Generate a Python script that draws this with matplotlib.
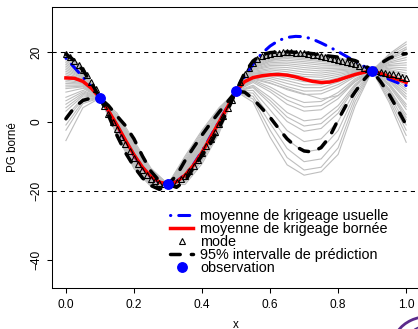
import numpy as np
import matplotlib
matplotlib.use("Agg")
import matplotlib.pyplot as plt
from matplotlib.lines import Line2D
from matplotlib.patches import Ellipse
from matplotlib.transforms import IdentityTransform

plt.rcParams["font.family"] = ["Liberation Sans", "DejaVu Sans"]

# observations
obsX = [0.1, 0.3, 0.5, 0.9]
obsY = [6.8, -18.1, 8.7, 14.7]

# grid for the main curves (step 0.025)
xMain = np.linspace(0.0, 1.0, 41)

meanUsual = [18.3, 15.6, 12.8, 10.0, 6.8, 3.0, -1.2, -5.6, -9.8, -13.4, -16.0,
             -17.6, -18.1, -17.3, -15.4, -12.4, -8.6, -4.3, 0.0, 4.3, 8.7,
             12.9, 16.6, 19.6, 21.8, 23.4, 24.3, 24.6, 24.5, 23.8, 22.7,
             21.5, 20.2, 18.8, 17.4, 16.0, 14.7, 13.4, 12.2, 11.2, 10.4]

meanBounded = [12.6, 12.5, 11.6, 9.6, 6.8, 3.1, -1.0, -5.4, -9.6, -13.2, -15.9,
               -17.5, -18.1, -17.4, -15.5, -12.6, -8.9, -4.6, -0.2, 4.2, 8.7,
               11.5, 12.7, 13.2, 13.5, 13.6, 13.4, 12.9, 12.2, 11.6, 11.3,
               11.4, 12.0, 12.8, 13.6, 14.2, 14.7, 13.9, 13.0, 12.2, 11.3]

upper95 = [19.5, 17.6, 14.8, 11.2, 6.8, 4.6, 1.6, -1.2, -5.0, -10.0, -14.4,
           -17.2, -18.1, -15.6, -11.3, -7.5, -3.9, -0.5, 2.7, 5.7, 8.7,
           14.0, 17.5, 19.3, 19.9, 20.1, 20.1, 20.0, 19.9, 19.6, 19.2,
           18.9, 18.6, 18.2, 17.6, 16.5, 14.7, 16.8, 18.3, 19.2, 19.6]

lower95 = [0.8, 4.1, 6.1, 6.8, 6.8, 1.8, -4.0, -9.0, -13.0, -16.3, -18.5,
           -19.6, -18.1, -19.0, -17.2, -13.3, -9.8, -6.4, -1.8, 3.2, 8.7,
           8.5, 6.6, 3.9, 1.2, -2.0, -5.0, -7.2, -8.5, -8.8, -7.5,
           -4.4, 0.5, 5.0, 8.6, 12.0, 14.7, 11.5, 7.8, 3.5, -1.0]

# mode, finer grid (step 0.0125)
xMode = np.linspace(0.0, 1.0, 81)
modeY = [19.5, 18.7, 17.6, 16.4, 15.0, 13.4, 11.5, 9.3, 6.8,
         4.6, 2.3, 0.0, -2.2, -4.4, -6.5, -8.6, -10.6, -12.4, -14.0, -15.4,
         -16.5, -17.3, -17.8, -18.1, -18.1,
         -17.9, -17.4, -16.6, -15.6, -14.3, -12.8, -11.1, -9.2, -7.2, -5.1,
         -2.9, -0.7, 1.5, 3.8, 6.2, 8.7,
         11.3, 13.6, 15.5, 17.0, 18.0, 18.8, 19.3, 19.6, 19.8, 19.9, 20.0,
         20.0, 20.0, 19.9, 19.8, 19.7, 19.5, 19.3, 19.1, 18.9, 18.6, 18.3,
         18.0, 17.8, 17.5, 17.2, 16.9, 16.5, 16.1, 15.6, 15.2, 14.7,
         14.5, 14.3, 14.1, 13.8, 13.6, 13.3, 13.0, 12.7]

# simulated paths (step 0.05)
xPaths = np.linspace(0.0, 1.0, 21)
grayPaths = [
    [20.0, 15.5, 6.8, 2.5, -5.5, -13.5, -18.1, -10.0, -2.5, 4.0, 8.7, 17.5, 19.8, 20.0, 19.8, 19.3, 18.5, 17.2, 14.7, 13.0, 9.5],
    [19.0, 15.0, 6.8, 1.8, -6.5, -14.2, -18.1, -11.0, -3.5, 3.3, 8.7, 17.0, 19.2, 19.6, 19.4, 18.8, 18.0, 16.8, 14.7, 16.5, 17.0],
    [18.5, 14.8, 6.8, 1.2, -7.3, -14.8, -18.1, -12.0, -4.6, 2.6, 8.7, 16.5, 18.5, 19.0, 18.6, 18.0, 17.4, 16.5, 14.7, 19.5, 23.0],
    [18.0, 14.3, 6.8, 0.7, -8.0, -15.2, -18.1, -12.8, -5.5, 2.0, 8.7, 16.0, 17.8, 18.2, 17.8, 17.3, 16.9, 16.2, 14.7, 11.0, 5.0],
    [17.0, 13.8, 6.8, 0.2, -8.6, -15.6, -18.1, -13.5, -6.3, 1.4, 8.7, 15.5, 17.0, 17.2, 16.8, 16.3, 16.2, 15.8, 14.7, 18.0, 20.0],
    [16.0, 13.2, 6.8, -0.3, -9.2, -16.0, -18.1, -14.2, -7.1, 0.9, 8.7, 15.0, 16.2, 16.2, 15.6, 15.2, 15.4, 15.5, 14.7, 8.7, 0.5],
    [15.0, 12.8, 6.8, -0.7, -9.7, -16.3, -18.1, -14.8, -7.8, 0.4, 8.7, 14.5, 15.3, 15.0, 14.3, 14.0, 14.6, 15.0, 14.7, 15.0, 14.0],
    [14.0, 12.3, 6.8, -1.1, -10.2, -16.6, -18.1, -15.3, -8.5, 0.0, 8.7, 14.0, 14.4, 13.8, 13.0, 12.8, 13.6, 14.6, 14.7, 12.3, 8.0],
    [13.0, 11.8, 6.8, -1.5, -10.7, -16.9, -18.1, -15.8, -9.1, -0.5, 8.7, 13.5, 13.5, 12.5, 11.5, 11.4, 12.6, 14.2, 14.7, 17.2, 18.5],
    [12.5, 11.5, 6.8, -2.0, -11.3, -17.3, -18.1, -16.4, -9.8, -1.1, 8.7, 13.0, 12.4, 11.0, 9.8, 9.8, 11.4, 13.6, 14.7, 6.3, -4.0],
    [11.5, 11.0, 6.8, -2.6, -12.0, -17.7, -18.1, -17.0, -10.6, -1.8, 8.7, 12.5, 11.2, 9.2, 7.8, 8.0, 10.0, 13.0, 14.7, 14.3, 12.5],
    [10.5, 10.5, 6.8, -3.3, -12.8, -18.2, -18.1, -17.6, -11.4, -2.6, 8.7, 12.0, 10.0, 7.3, 5.5, 5.8, 8.4, 12.4, 14.7, 18.8, 21.5],
    [9.5, 10.0, 6.8, -4.0, -13.6, -18.8, -18.1, -18.2, -12.2, -3.4, 8.7, 11.3, 8.6, 5.0, 3.0, 3.4, 6.6, 11.6, 14.7, 10.3, 3.5],
    [8.5, 9.6, 6.8, 0.0, -8.0, -14.8, -18.1, -13.0, -7.5, -0.5, 8.7, 10.5, 7.0, 2.6, 0.2, 0.8, 4.6, 10.8, 14.7, 15.8, 15.5],
    [7.0, 9.0, 6.8, -1.8, -11.8, -18.0, -18.1, -16.0, -8.0, 1.5, 8.7, 9.8, 5.2, 0.0, -2.8, -2.0, 2.4, 10.0, 14.7, 7.2, -2.5],
    [5.0, 8.2, 6.8, 1.0, -6.8, -14.0, -18.1, -11.5, -5.0, 1.0, 8.7, 9.0, 3.4, -2.6, -5.8, -5.0, 0.0, 9.0, 14.7, 13.6, 11.0],
    [3.0, 7.4, 6.8, -0.5, -10.5, -17.5, -18.1, -14.5, -9.5, -2.0, 8.7, 8.2, 1.5, -5.2, -8.8, -8.0, -2.6, 8.0, 14.7, 11.6, 6.5],
    [0.5, 6.4, 6.8, -2.3, -10.8, -16.2, -18.1, -17.0, -9.0, 0.8, 8.7, 7.3, -0.5, -7.8, -11.6, -10.8, -5.2, 7.0, 14.7, 9.5, 2.0],
    [-2.5, 5.2, 6.8, 0.4, -9.0, -16.8, -18.1, -12.5, -6.0, 3.0, 8.7, 6.5, -2.5, -10.4, -14.0, -13.2, -7.6, 5.8, 14.7, 8.0, -1.0],
    [-5.5, 4.0, 6.8, -3.0, -12.2, -17.0, -18.1, -15.5, -11.0, -2.2, 8.7, 5.6, -4.5, -12.5, -15.5, -14.5, -9.5, 4.5, 14.7, 5.5, -6.0],
    [19.5, 15.3, 6.8, 1.5, -6.2, -14.5, -18.1, -10.5, -3.0, 3.7, 8.7, 17.3, 19.6, 19.9, 19.7, 19.1, 18.3, 17.0, 14.7, 19.2, 22.3],
    [18.8, 15.1, 6.8, 0.9, -7.6, -15.0, -18.1, -11.5, -4.0, 3.0, 8.7, 16.8, 18.9, 19.3, 19.0, 18.4, 17.7, 16.6, 14.7, 18.4, 20.8],
    [17.5, 14.1, 6.8, 0.5, -8.3, -15.4, -18.1, -12.4, -5.0, 2.3, 8.7, 16.2, 18.1, 18.6, 18.2, 17.6, 17.1, 16.3, 14.7, 17.6, 19.3],
    [16.5, 13.5, 6.8, -0.1, -8.9, -15.8, -18.1, -13.2, -5.9, 1.7, 8.7, 15.8, 17.4, 17.7, 17.3, 16.8, 16.5, 16.0, 14.7, 16.9, 17.8],
    [15.5, 13.0, 6.8, -0.5, -9.4, -16.1, -18.1, -13.9, -6.7, 1.2, 8.7, 15.2, 16.6, 16.7, 16.2, 15.7, 15.8, 15.6, 14.7, 16.2, 16.3],
    [14.5, 12.6, 6.8, -0.9, -9.9, -16.4, -18.1, -14.5, -7.4, 0.6, 8.7, 14.8, 15.8, 15.6, 15.0, 14.6, 15.0, 15.2, 14.7, 15.4, 14.8],
    [13.5, 12.0, 6.8, -1.3, -10.4, -16.7, -18.1, -15.0, -8.1, 0.2, 8.7, 14.2, 14.9, 14.4, 13.6, 13.4, 14.1, 14.8, 14.7, 14.7, 13.3],
    [12.0, 11.2, 6.8, -1.7, -11.0, -17.1, -18.1, -15.6, -8.8, -0.2, 8.7, 13.8, 14.0, 13.2, 12.2, 12.1, 13.1, 14.4, 14.7, 14.0, 11.8],
    [11.0, 10.8, 6.8, -2.2, -11.6, -17.5, -18.1, -16.1, -9.4, -0.8, 8.7, 13.2, 12.9, 11.8, 10.6, 10.6, 12.0, 13.9, 14.7, 12.7, 8.8],
    [10.0, 10.2, 6.8, -2.9, -12.4, -18.0, -18.1, -16.7, -10.2, -1.4, 8.7, 12.7, 11.8, 10.1, 8.8, 8.9, 10.7, 13.3, 14.7, 12.0, 7.2],
    [6.0, 8.6, 6.8, 2.0, -6.0, -13.8, -18.1, -17.3, -11.0, -2.2, 8.7, 11.7, 9.3, 6.2, 4.2, 4.6, 7.5, 12.0, 14.7, 10.7, 4.3],
    [4.0, 7.8, 6.8, -3.6, -13.2, -18.5, -18.1, -12.0, -7.0, 0.5, 8.7, 10.1, 6.1, 1.3, -1.3, -0.6, 3.5, 10.4, 14.7, 9.1, 1.2],
    [1.5, 6.8, 6.8, 0.3, -7.0, -15.0, -18.1, -14.0, -8.8, -1.0, 8.7, 15.5, 17.5, 18.8, 19.2, 18.9, 17.8, 16.0, 14.7, 17.8, 21.0],
    [-1.0, 5.8, 6.8, -1.0, -11.5, -17.8, -18.1, -16.5, -9.5, 1.0, 8.7, 12.2, 11.0, 9.5, 8.0, 6.5, 7.5, 11.5, 14.7, 13.3, 10.2],
]

bounds = [20, -20]
xTicks = [0.0, 0.2, 0.4, 0.6, 0.8, 1.0]
yTicks = [-40, -20, 0, 20]
legendLabels = ["moyenne de krigeage usuelle", "moyenne de krigeage bornée",
                "mode", "95% intervalle de prédiction", "observation"]

fig = plt.figure(figsize=(4.18, 3.29), dpi=100)
ax = fig.add_axes([52.3 / 418, 41.3 / 329, 367.5 / 418, 280.4 / 329])

for path in grayPaths:
    ax.plot(xPaths, path, color="#BEBEBE", lw=0.8, zorder=1)

for b in bounds:
    ax.axhline(b, color="black", lw=0.75, dashes=(4, 4), zorder=2)

ax.plot(xMain, meanUsual, color="blue", lw=2.2, dashes=(0.1, 2.6, 3.6, 2.6),
        dash_capstyle="round", zorder=3)
ax.plot(xMain, meanBounded, color="red", lw=2.5, zorder=4)
ax.plot(xMode, modeY, ls="none", marker="^", ms=4.5, mfc="none", mec="black",
        mew=0.8, zorder=5)
ax.plot(xMain, upper95, color="black", lw=2.5, dashes=(2.8, 3.2),
        dash_capstyle="round", zorder=6)
ax.plot(xMain, lower95, color="black", lw=2.5, dashes=(2.8, 3.2),
        dash_capstyle="round", zorder=6)
ax.plot(obsX, obsY, ls="none", marker="o", ms=6.8, color="blue", zorder=7)

ax.set_xlim(-0.04, 1.04)
ax.set_ylim(-48, 33)
ax.set_xticks(xTicks)
ax.set_xticklabels(["%.1f" % t for t in xTicks])
ax.set_yticks(yTicks)
ax.tick_params(axis="both", direction="out", length=3.6, width=0.75, labelsize=8.6)
ax.tick_params(axis="x", pad=4.3)
ax.tick_params(axis="y", pad=3.3)
for lab in ax.get_yticklabels():
    lab.set_rotation(90)
    lab.set_va("center")
for sp in ax.spines.values():
    sp.set_linewidth(0.75)

ax.set_xlabel("x", fontsize=8.4)
ax.xaxis.set_label_coords(0.5, -0.11)
ax.set_ylabel("PG borné", fontsize=8.4)
ax.yaxis.set_label_coords(-0.09, 0.5)

handles = [
    Line2D([0], [0], color="blue", lw=2.2, dashes=(0.1, 2.6, 3.6, 2.6), dash_capstyle="round"),
    Line2D([0], [0], color="red", lw=2.5),
    Line2D([0], [0], ls="none", marker="^", ms=4.5, mfc="none", mec="black", mew=0.8),
    Line2D([0], [0], color="black", lw=2.5, dashes=(2.8, 3.2), dash_capstyle="round"),
    Line2D([0], [0], ls="none", marker="o", ms=6.8, color="blue"),
]
ax.legend(handles, legendLabels, loc="upper left", bbox_to_anchor=(0.3203, 0.282),
          frameon=False, fontsize=10.4, borderpad=0, borderaxespad=0,
          handlelength=1.6, handletextpad=0.48, labelspacing=-0.06, numpoints=1)

# logo in the corner
fig.add_artist(Ellipse((417, -4), 46, 28, angle=25, fill=False, edgecolor="#5B2A8C",
                       lw=2.0, transform=IdentityTransform()))
fig.add_artist(Ellipse((421, -6), 30, 16, angle=25, fill=False, edgecolor="#5B2A8C",
                       lw=1.2, transform=IdentityTransform()))

fig.savefig("out.png", dpi=100)
